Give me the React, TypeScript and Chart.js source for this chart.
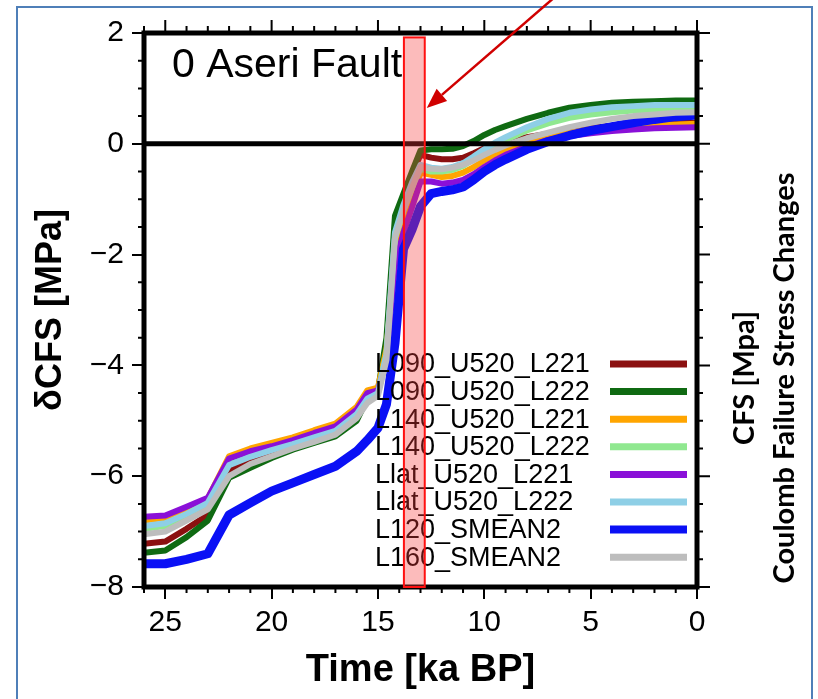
import React, { useEffect, useRef } from 'react';
import { Chart, registerables } from 'chart.js';

Chart.register(...registerables);

// ---- data ----
const TIME_KA = [26, 25, 24, 23, 22, 21, 20, 19, 18, 17, 16, 15.5, 15, 14.6, 14.2, 13.8, 13.4, 13, 12.5, 12, 11.5, 11, 10.5, 10, 9.5, 9, 8, 7, 6, 5, 4, 3, 2, 1, 0];

const L090_U520_L221 = [-7.22, -7.18, -6.95, -6.7, -5.9, -5.75, -5.6, -5.47, -5.35, -5.22, -4.92, -4.6, -4.47, -3.7, -1.5, -0.95, -0.55, -0.2, -0.25, -0.28, -0.28, -0.25, -0.17, -0.08, -0.01, 0.04, 0.12, 0.18, 0.24, 0.29, 0.32, 0.35, 0.37, 0.38, 0.38];
const L090_U520_L222 = [-7.38, -7.34, -7.1, -6.8, -6.03, -5.85, -5.67, -5.52, -5.4, -5.28, -5.0, -4.6, -4.45, -3.5, -1.3, -0.9, -0.5, -0.12, -0.1, -0.1, -0.09, -0.04, 0.05, 0.16, 0.25, 0.32, 0.45, 0.56, 0.65, 0.7, 0.74, 0.76, 0.77, 0.78, 0.78];
const L140_U520_L221 = [-6.8, -6.75, -6.6, -6.4, -5.64, -5.5, -5.4, -5.3, -5.17, -5.05, -4.75, -4.45, -4.4, -3.7, -2.0, -1.5, -1.0, -0.52, -0.56, -0.6, -0.58, -0.52, -0.42, -0.3, -0.19, -0.1, 0.04, 0.13, 0.2, 0.25, 0.29, 0.32, 0.34, 0.35, 0.36];
const L140_U520_L222 = [-6.95, -6.9, -6.72, -6.52, -5.75, -5.6, -5.5, -5.38, -5.25, -5.13, -4.85, -4.55, -4.47, -3.8, -1.7, -1.2, -0.8, -0.45, -0.5, -0.5, -0.47, -0.4, -0.28, -0.15, -0.03, 0.07, 0.24, 0.37, 0.47, 0.53, 0.57, 0.6, 0.62, 0.63, 0.63];
const Llat_U520_L221 = [-6.73, -6.71, -6.55, -6.39, -5.68, -5.55, -5.46, -5.35, -5.22, -5.1, -4.8, -4.5, -4.45, -3.9, -2.2, -1.6, -1.15, -0.68, -0.68, -0.72, -0.7, -0.65, -0.55, -0.42, -0.3, -0.2, -0.05, 0.07, 0.14, 0.19, 0.23, 0.26, 0.28, 0.29, 0.3];
const Llat_U520_L222 = [-6.9, -6.85, -6.68, -6.48, -5.8, -5.65, -5.53, -5.42, -5.3, -5.18, -4.88, -4.6, -4.5, -3.8, -1.6, -1.1, -0.7, -0.38, -0.43, -0.45, -0.42, -0.35, -0.23, -0.1, 0.02, 0.12, 0.3, 0.45, 0.56, 0.62, 0.66, 0.68, 0.7, 0.7, 0.7];
const L120_SMEAN2 = [-7.58, -7.58, -7.5, -7.4, -6.7, -6.48, -6.27, -6.12, -5.97, -5.82, -5.55, -5.35, -5.13, -4.7, -3.6, -1.9, -1.55, -1.13, -0.9, -0.86, -0.83, -0.78, -0.65, -0.5, -0.38, -0.28, -0.1, 0.04, 0.15, 0.24, 0.31, 0.38, 0.44, 0.49, 0.52];
const L160_SMEAN2 = [-7.05, -7.0, -6.8, -6.6, -6.0, -5.78, -5.64, -5.5, -5.38, -5.25, -4.95, -4.68, -4.55, -3.9, -1.7, -1.2, -0.8, -0.42, -0.45, -0.46, -0.43, -0.38, -0.3, -0.2, -0.11, -0.03, 0.1, 0.2, 0.3, 0.38, 0.45, 0.5, 0.53, 0.56, 0.57];

const SERIES_LABELS = ['L090_U520_L221', 'L090_U520_L222', 'L140_U520_L221', 'L140_U520_L222', 'Llat_U520_L221', 'Llat_U520_L222', 'L120_SMEAN2', 'L160_SMEAN2'];
const SERIES_VALUES = [L090_U520_L221, L090_U520_L222, L140_U520_L221, L140_U520_L222, Llat_U520_L221, Llat_U520_L222, L120_SMEAN2, L160_SMEAN2];
const SERIES_COLORS = ['#8b1010', '#0f6a12', '#ffa500', '#90e890', '#8a10d8', '#8ecfe6', '#0a10f5', '#bdbdbd'];
const SERIES_WIDTHS = [6, 6, 6, 6, 6, 6, 9, 6];

const HIGHLIGHT_KA = [13.78, 12.8];
const HIGHLIGHT_Y = [1.92, -8];

const FONT = "'Liberation Sans', Arial, Helvetica, sans-serif";
const SIDE_FONT = "Lato, 'Open Sans', sans-serif";

const minus = (v: number) => (v < 0 ? '\u2212' + Math.abs(v) : String(v));

const decorPlugin = {
  id: 'decor',
  beforeDraw(chart: any) {
    const ctx = chart.ctx;
    ctx.save();
    ctx.fillStyle = '#ffffff';
    ctx.fillRect(0, 0, chart.width, chart.height);
    ctx.strokeStyle = '#4f7fb8';
    ctx.lineWidth = 2;
    ctx.strokeRect(17, 7, 795, 740);
    ctx.restore();
  },
  afterDatasetsDraw(chart: any) {
    const ctx = chart.ctx;
    const { left, right, top, bottom } = chart.chartArea;
    const xs = chart.scales.x;
    const ys = chart.scales.y;
    ctx.save();

    // zero line
    ctx.strokeStyle = '#000';
    ctx.lineWidth = 5;
    ctx.beginPath();
    const y0 = ys.getPixelForValue(0);
    ctx.moveTo(left, y0);
    ctx.lineTo(right, y0);
    ctx.stroke();

    // minor ticks and top/right ticks
    ctx.lineWidth = 2;
    ctx.beginPath();
    for (let v = -8; v <= 2.001; v += 0.5) {
      const py = ys.getPixelForValue(v);
      const major = Math.abs(v % 2) < 1e-6;
      if (!major) {
        ctx.moveTo(left - 6, py);
        ctx.lineTo(left, py);
      }
      ctx.moveTo(right, py);
      ctx.lineTo(right + (major ? 13 : 6), py);
    }
    for (let k = 0; k <= 26; k += 1) {
      const px = xs.getPixelForValue(k);
      const major = k % 5 === 0;
      if (!major) {
        ctx.moveTo(px, bottom);
        ctx.lineTo(px, bottom + 6);
      }
      ctx.moveTo(px, top);
      ctx.lineTo(px, top - (major ? 13 : 7));
    }
    ctx.stroke();

    // frame
    ctx.lineWidth = 5;
    ctx.strokeRect(left, top, right - left, bottom - top);

    // title inside plot
    ctx.fillStyle = '#000';
    ctx.font = `41px ${FONT}`;
    ctx.textAlign = 'left';
    ctx.textBaseline = 'alphabetic';
    ctx.fillText('0 Aseri Fault', left + 28, top + 44);

    // legend
    ctx.font = `27px ${FONT}`;
    ctx.textBaseline = 'middle';
    const ly0 = 364;
    const step = 27.6;
    SERIES_LABELS.forEach((lab, i) => {
      const yy = ly0 + i * step;
      ctx.fillStyle = '#000';
      ctx.fillText(lab, 375, yy + 1);
      ctx.strokeStyle = SERIES_COLORS[i];
      ctx.lineWidth = i === 6 ? 8 : 7;
      ctx.beginPath();
      ctx.moveTo(right - 87, yy);
      ctx.lineTo(right - 10, yy);
      ctx.stroke();
    });

    // highlight band
    const hx1 = xs.getPixelForValue(HIGHLIGHT_KA[0]);
    const hx2 = xs.getPixelForValue(HIGHLIGHT_KA[1]);
    const hy1 = ys.getPixelForValue(HIGHLIGHT_Y[0]);
    const hy2 = ys.getPixelForValue(HIGHLIGHT_Y[1]);
    ctx.fillStyle = 'rgba(245, 60, 60, 0.35)';
    ctx.fillRect(hx1, hy1, hx2 - hx1, hy2 - hy1);
    ctx.strokeStyle = '#ff1010';
    ctx.lineWidth = 2;
    ctx.strokeRect(hx1, hy1, hx2 - hx1, hy2 - hy1);

    // arrow
    const tipX = hx2 + 2;
    const tipY = 108;
    const sx = 556;
    const sy = -4;
    const ang = Math.atan2(tipY - sy, tipX - sx);
    const hl = 20;
    const hw = 8;
    const bx = tipX - hl * Math.cos(ang);
    const by = tipY - hl * Math.sin(ang);
    ctx.strokeStyle = '#d00000';
    ctx.fillStyle = '#d00000';
    ctx.lineWidth = 2.5;
    ctx.beginPath();
    ctx.moveTo(sx, sy);
    ctx.lineTo(bx, by);
    ctx.stroke();
    ctx.beginPath();
    ctx.moveTo(tipX, tipY);
    ctx.lineTo(bx + hw * Math.sin(ang), by - hw * Math.cos(ang));
    ctx.lineTo(bx - hw * Math.sin(ang), by + hw * Math.cos(ang));
    ctx.closePath();
    ctx.fill();

    // right side texts
    ctx.fillStyle = '#000';
    ctx.textAlign = 'center';
    ctx.textBaseline = 'middle';
    ctx.font = `bold 29px ${SIDE_FONT}`;
    ctx.save();
    ctx.translate(745, 378);
    ctx.rotate(-Math.PI / 2);
    ctx.fillText('CFS [Mpa]', 0, 0);
    ctx.restore();
    ctx.save();
    ctx.translate(785, 378);
    ctx.rotate(-Math.PI / 2);
    ctx.fillText('Coulomb Failure Stress Changes', 0, 0);
    ctx.restore();

    ctx.restore();
  },
};

export default function App() {
  const ref = useRef<HTMLCanvasElement | null>(null);
  useEffect(() => {
    if (!ref.current) return;
    const n = SERIES_LABELS.length;
    const chart = new Chart(ref.current, {
      type: 'line',
      data: {
        datasets: SERIES_LABELS.map((lab, i) => ({
          label: lab,
          data: TIME_KA.map((t, j) => ({ x: t, y: SERIES_VALUES[i][j] })),
          borderColor: SERIES_COLORS[i],
          backgroundColor: SERIES_COLORS[i],
          borderWidth: SERIES_WIDTHS[i],
          pointRadius: 0,
          fill: false,
          tension: 0,
          borderJoinStyle: 'round' as const,
          order: n - i,
        })),
      },
      options: {
        responsive: false,
        animation: false,
        devicePixelRatio: 1,
        layout: { padding: { top: 33, right: 121, left: 0, bottom: 0 } },
        plugins: { legend: { display: false }, tooltip: { enabled: false } },
        scales: {
          x: {
            type: 'linear',
            reverse: true,
            min: 0,
            max: 26,
            afterFit: (s: any) => { s.height = 112; },
            border: { display: false },
            grid: { drawOnChartArea: false, drawTicks: true, tickLength: 12, color: '#000', lineWidth: 2 },
            ticks: { stepSize: 5, includeBounds: false, padding: 6, color: '#000', maxRotation: 0, autoSkip: false, font: { family: FONT, size: 30 } },
            title: { display: true, text: 'Time [ka BP]', color: '#000', font: { family: FONT, size: 38, weight: 'bold' }, padding: { top: 0, bottom: 6 } },
          },
          y: {
            type: 'linear',
            min: -8,
            max: 2,
            afterFit: (s: any) => { s.width = 144; },
            border: { display: false },
            grid: { drawOnChartArea: false, drawTicks: true, tickLength: 12, color: '#000', lineWidth: 2 },
            ticks: { stepSize: 2, includeBounds: false, padding: 8, color: '#000', font: { family: FONT, size: 30 }, callback: (v: any) => minus(Number(v)) },
            title: { display: true, text: '\u03b4CFS [MPa]', color: '#000', font: { family: FONT, size: 36, weight: 'bold' }, padding: { top: 29, bottom: 0 } },
          },
        },
      },
      plugins: [decorPlugin],
    } as any);
    return () => chart.destroy();
  }, []);
  return (
    <div style={{ position: 'fixed', left: 0, top: 0, width: 818, height: 699, background: '#fff' }}>
      <canvas ref={ref} width={818} height={699} style={{ display: 'block' }} />
    </div>
  );
}
